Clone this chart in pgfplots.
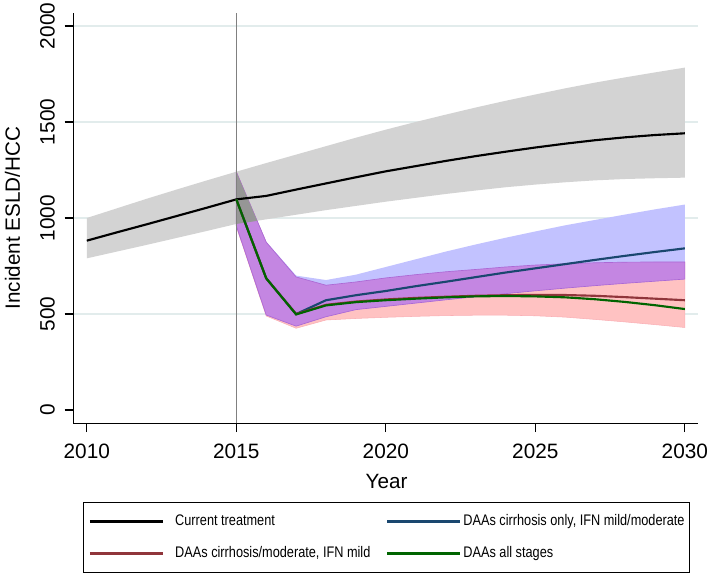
\documentclass[border=0pt]{standalone}
\usepackage{fontspec}
\setmainfont{Liberation Sans}
\newfontfamily\legfont{Liberation Sans}[FakeStretch=0.83]
\usepackage{pgfplots}
\pgfplotsset{compat=1.18}
\usepgfplotslibrary{fillbetween}
\usepackage{pgfplotstable}

\definecolor{bandgray}{RGB}{211,211,211}
\definecolor{bandblue}{RGB}{194,194,255}
\definecolor{bandpink}{RGB}{255,194,194}
\definecolor{edgepink}{RGB}{250,175,180}
\definecolor{bandpurple}{RGB}{196,134,226}
\definecolor{edgepurple}{RGB}{172,104,212}
\definecolor{tri}{RGB}{150,150,150}
\definecolor{lnblue}{RGB}{26,71,111}
\definecolor{lnred}{RGB}{144,53,59}
\definecolor{lngreen}{RGB}{0,100,0}
\definecolor{gridc}{RGB}{226,236,236}

\pgfplotstableread{
yr bk gu gl
2010 882 1000 790
2011 925 1050 825
2012 967 1100 860
2013 1010 1148 896
2014 1053 1195 932
2015 1097 1241 969
2016 1115 1286 993
2017 1148 1330 1017
2018 1180 1374 1041
2019 1212 1418 1063
2020 1243 1460 1085
2021 1270 1500 1105
2022 1297 1538 1125
2023 1322 1575 1143
2024 1345 1610 1160
2025 1367 1643 1174
2026 1387 1675 1186
2027 1405 1705 1196
2028 1420 1732 1203
2029 1432 1758 1207
2030 1441 1783 1210
}\histtab

\pgfplotstableread{
yr bu pu pl pkl bln rdn gnn
2015 1241 1241 960 955 1097 1097 1097
2016 877 874 495 490 686 686 686
2017 700 693 437 426 500 500 498
2018 677 650 486 469 572 548 545
2019 705 667 523 477 598 565 562
2020 745 688 540 483 620 576 572
2021 785 705 557 488 645 584 580
2022 825 720 574 492 668 590 587
2023 862 732 590 494 692 595 592
2024 897 745 606 494 716 598 594
2025 930 755 621 491 738 600 592
2026 962 762 635 484 760 599 587
2027 990 767 648 472 782 595 577
2028 1018 770 660 459 803 588 563
2029 1045 771 671 445 823 580 546
2030 1070 771 682 430 842 572 526
}\scentab

\begin{document}
\begin{tikzpicture}
\begin{axis}[
  at={(0,0)}, anchor=south west,
  scale only axis, width=468.5pt, height=308pt,
  xmin=2009.55, xmax=2030.44, ymin=-69, ymax=2069,
  axis lines=left, axis line style={-, line width=0.9pt},
  xtick={2010,2015,...,2030}, ytick={0,500,...,2000},
  extra y ticks={500,1000,1500,2000},
  extra y tick labels={},
  extra y tick style={grid=major, major tick length=0pt},
  grid style={gridc, line width=0.9pt},
  tick align=outside, major tick length=6.5pt,
  tick style={black, line width=0.9pt},
  scaled ticks=false,
  /pgf/number format/assume math mode=true,
  /pgf/number format/1000 sep={},
  ticklabel style={font=\fontsize{15.6}{18}\selectfont},
  yticklabel style={rotate=90, anchor=base, inner sep=0pt},
  yticklabel shift=7.5pt,
  xticklabel style={anchor=north, inner sep=0pt},
  xticklabel shift=9pt,
  xlabel={Year},
  ylabel={Incident ESLD/HCC},
  x label style={at={(axis description cs:0.5014,0)}, anchor=base, yshift=-48.5pt, font=\fontsize{15.5}{18}\selectfont},
  y label style={at={(axis description cs:-0.0854,0.5)}, rotate=0, anchor=base, font=\fontsize{15.5}{18}\selectfont},
  legend columns=2,
  legend cell align=left,
  legend image code/.code={\draw[#1, line width=2pt] (0pt,0pt) -- (54.75pt,0pt);},
  legend style={at={(0.5014,-0.1909)}, anchor=north, draw=black, line width=0.8pt,
    font=\legfont\fontsize{11.5}{13}\selectfont,
    inner xsep=4pt, inner ysep=8.5pt, row sep=11.8pt,
    nodes={inner sep=0pt, text height=9pt, text depth=3pt},
    /tikz/column 1/.style={column sep=8.25pt},
    /tikz/column 2/.style={column sep=11.5pt},
    /tikz/column 3/.style={column sep=1.5pt}},
]
% gray band
\addplot[name path=gu, draw=none, forget plot] table[x=yr,y=gu]{\histtab};
\addplot[name path=gl, draw=none, forget plot] table[x=yr,y=gl]{\histtab};
\addplot[fill=bandgray, draw=none, forget plot] fill between[of=gu and gl];
% scenario bands
\addplot[name path=bu, draw=none, forget plot] table[x=yr,y=bu]{\scentab};
\addplot[name path=pu, draw=none, forget plot] table[x=yr,y=pu]{\scentab};
\addplot[name path=pl, draw=none, forget plot] table[x=yr,y=pl]{\scentab};
\addplot[name path=pkl, draw=none, forget plot] table[x=yr,y=pkl]{\scentab};
\addplot[fill=bandpink, draw=edgepink, line width=0.4pt, forget plot] fill between[of=pu and pkl];
\addplot[fill=bandblue, draw=none, forget plot] fill between[of=bu and pl];
\addplot[fill=bandpurple, draw=edgepurple, line width=0.5pt, forget plot] fill between[of=pu and pl];
% overlap of the two bands at 2015
\addplot[fill=tri, draw=none, forget plot] coordinates {(2015,1241) (2015.7,985) (2015,969)} -- cycle;
% 2015 marker line
\draw[gray, line width=0.9pt] (axis cs:2015,-69) -- (axis cs:2015,2069);
% lines
\addplot[black, line width=1.6pt] table[x=yr,y=bk]{\histtab};
\addlegendentry{Current treatment}
\addplot[lnblue, line width=1.6pt] table[x=yr,y=bln]{\scentab};
\addlegendentry{DAAs cirrhosis only, IFN mild/moderate}
\addplot[lnred, line width=1.6pt] table[x=yr,y=rdn]{\scentab};
\addlegendentry{DAAs cirrhosis/moderate, IFN mild}
\addplot[lngreen, line width=1.6pt] table[x=yr,y=gnn]{\scentab};
\addlegendentry{DAAs all stages}
\end{axis}
\pgfresetboundingbox
\path[use as bounding box] (-55pt,-111.5pt) rectangle (476.75pt,317.5pt);
\end{tikzpicture}
\end{document}
